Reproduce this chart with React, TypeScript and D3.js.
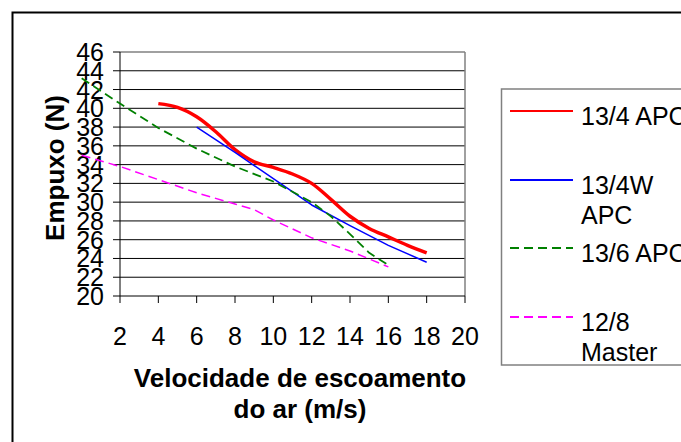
import * as d3 from 'd3'
import React from 'react'

// velocity (m/s) vs thrust (N)
const red134 = [
    [4, 40.5], [5, 40.1], [6, 39.1], [7, 37.5], [8, 35.6], [9, 34.3], [10, 33.7],
    [11, 33.0], [12, 32.0], [13, 30.3], [14, 28.5], [15, 27.2], [16, 26.3], [17, 25.4], [18, 24.6],
]
const blue134w = [
    [6, 38.0], [8, 35.3], [10, 32.5], [12, 29.7], [14, 27.5], [16, 25.4], [18, 23.6],
]
const green136 = [
    [0, 43.2], [2, 40.5], [4, 37.9], [6, 35.7], [8, 33.8], [10, 32.2], [12, 30.0],
    [13, 28.5], [14, 26.6], [15, 24.6], [16, 23.3],
]
const magenta128 = [
    [0, 35.0], [2, 33.8], [4, 32.4], [6, 31.0], [8, 29.8], [9, 29.2], [10, 28.1],
    [12, 26.2], [14, 24.8], [16, 23.1],
]

const xTicks = [2, 4, 6, 8, 10, 12, 14, 16, 18, 20]
const yTicks = [20, 22, 24, 26, 28, 30, 32, 34, 36, 38, 40, 42, 44, 46]

const series = [
    { name: ['13/4 APC'], data: red134, color: '#ff0000', width: 3.5, legendWidth: 2, dash: '', smooth: true },
    { name: ['13/4W', 'APC'], data: blue134w, color: '#0000ff', width: 1.5, legendWidth: 2, dash: '', smooth: false },
    { name: ['13/6 APC'], data: green136, color: '#008000', width: 1.8, legendWidth: 2, dash: '9,5', smooth: false },
    { name: ['12/8', 'Master'], data: magenta128, color: '#ff00ff', width: 1.5, legendWidth: 2, dash: '9,5', smooth: false },
]

const W = 681
const H = 442
const plot = { left: 120, right: 465, top: 52, bottom: 296 }
const font = '"Liberation Sans", Arial, sans-serif'

export default function App() {
    const x = d3.scaleLinear().domain([2, 20]).range([plot.left, plot.right])
    const y = d3.scaleLinear().domain([20, 46]).range([plot.bottom, plot.top])

    const lineFor = (smooth: boolean) =>
        d3
            .line<number[]>()
            .x((d) => x(d[0]))
            .y((d) => y(d[1]))
            .curve(smooth ? d3.curveCatmullRom.alpha(0.5) : d3.curveLinear)

    const legendRows = [111, 180, 248, 317]

    return (
        <svg
            width={W}
            height={H}
            style={{ position: 'absolute', left: 0, top: 0, background: '#fff' }}
            fontFamily={font}
        >
            {/* chart frame */}
            <rect x={12.5} y={12.5} width={720} height={480} fill="#fff" stroke="#000" strokeWidth={2} />

            {/* gridlines */}
            {yTicks
                .filter((t) => t > 20 && t < 46)
                .map((t) => (
                    <line key={'g' + t} x1={plot.left} x2={plot.right} y1={y(t)} y2={y(t)} stroke="#000" strokeWidth={1} />
                ))}
            <line x1={plot.left} x2={plot.right} y1={plot.top} y2={plot.top} stroke="#808080" strokeWidth={1.5} />
            <line x1={plot.right} x2={plot.right} y1={plot.top} y2={plot.bottom} stroke="#808080" strokeWidth={1.5} />

            {/* axes */}
            <line x1={plot.left} x2={plot.left} y1={plot.top} y2={plot.bottom} stroke="#000" strokeWidth={1} />
            <line x1={plot.left} x2={plot.right} y1={plot.bottom} y2={plot.bottom} stroke="#000" strokeWidth={1} />
            {yTicks.map((t) => (
                <g key={'y' + t}>
                    <line x1={plot.left - 7} x2={plot.left} y1={y(t)} y2={y(t)} stroke="#000" />
                    <text x={104} y={y(t)} dy="0.36em" textAnchor="end" fontSize={25}>
                        {t}
                    </text>
                </g>
            ))}
            {xTicks.map((t) => (
                <g key={'x' + t}>
                    <line x1={x(t)} x2={x(t)} y1={plot.bottom} y2={plot.bottom + 7} stroke="#000" />
                    <text x={x(t)} y={345} textAnchor="middle" fontSize={25}>
                        {t}
                    </text>
                </g>
            ))}

            {/* series (not clipped, as in the original) */}
            {series.map((s) => (
                <path
                    key={s.name.join(' ')}
                    d={lineFor(s.smooth)(s.data) || ''}
                    fill="none"
                    stroke={s.color}
                    strokeWidth={s.width}
                    strokeDasharray={s.dash || undefined}
                    strokeLinejoin="round"
                />
            ))}

            {/* axis titles */}
            <text x={300} y={387} textAnchor="middle" fontSize={26} fontWeight="bold">
                Velocidade de escoamento
            </text>
            <text x={300} y={418} textAnchor="middle" fontSize={26} fontWeight="bold">
                do ar (m/s)
            </text>
            <text
                transform={`translate(64,${168}) rotate(-90)`}
                textAnchor="middle"
                fontSize={26}
                fontWeight="bold"
            >
                Empuxo (N)
            </text>

            {/* legend */}
            <rect x={501.5} y={89} width={260} height={276} fill="#fff" stroke="#808080" strokeWidth={1.5} />
            {series.map((s, i) => (
                <g key={'l' + i}>
                    <line
                        x1={510}
                        x2={573}
                        y1={legendRows[i]}
                        y2={legendRows[i]}
                        stroke={s.color}
                        strokeWidth={s.legendWidth}
                        strokeDasharray={s.dash || undefined}
                    />
                    {s.name.map((n, j) => (
                        <text key={n} x={581} y={legendRows[i] + 14 + j * 30} fontSize={25}>
                            {n}
                        </text>
                    ))}
                </g>
            ))}
        </svg>
    )
}
